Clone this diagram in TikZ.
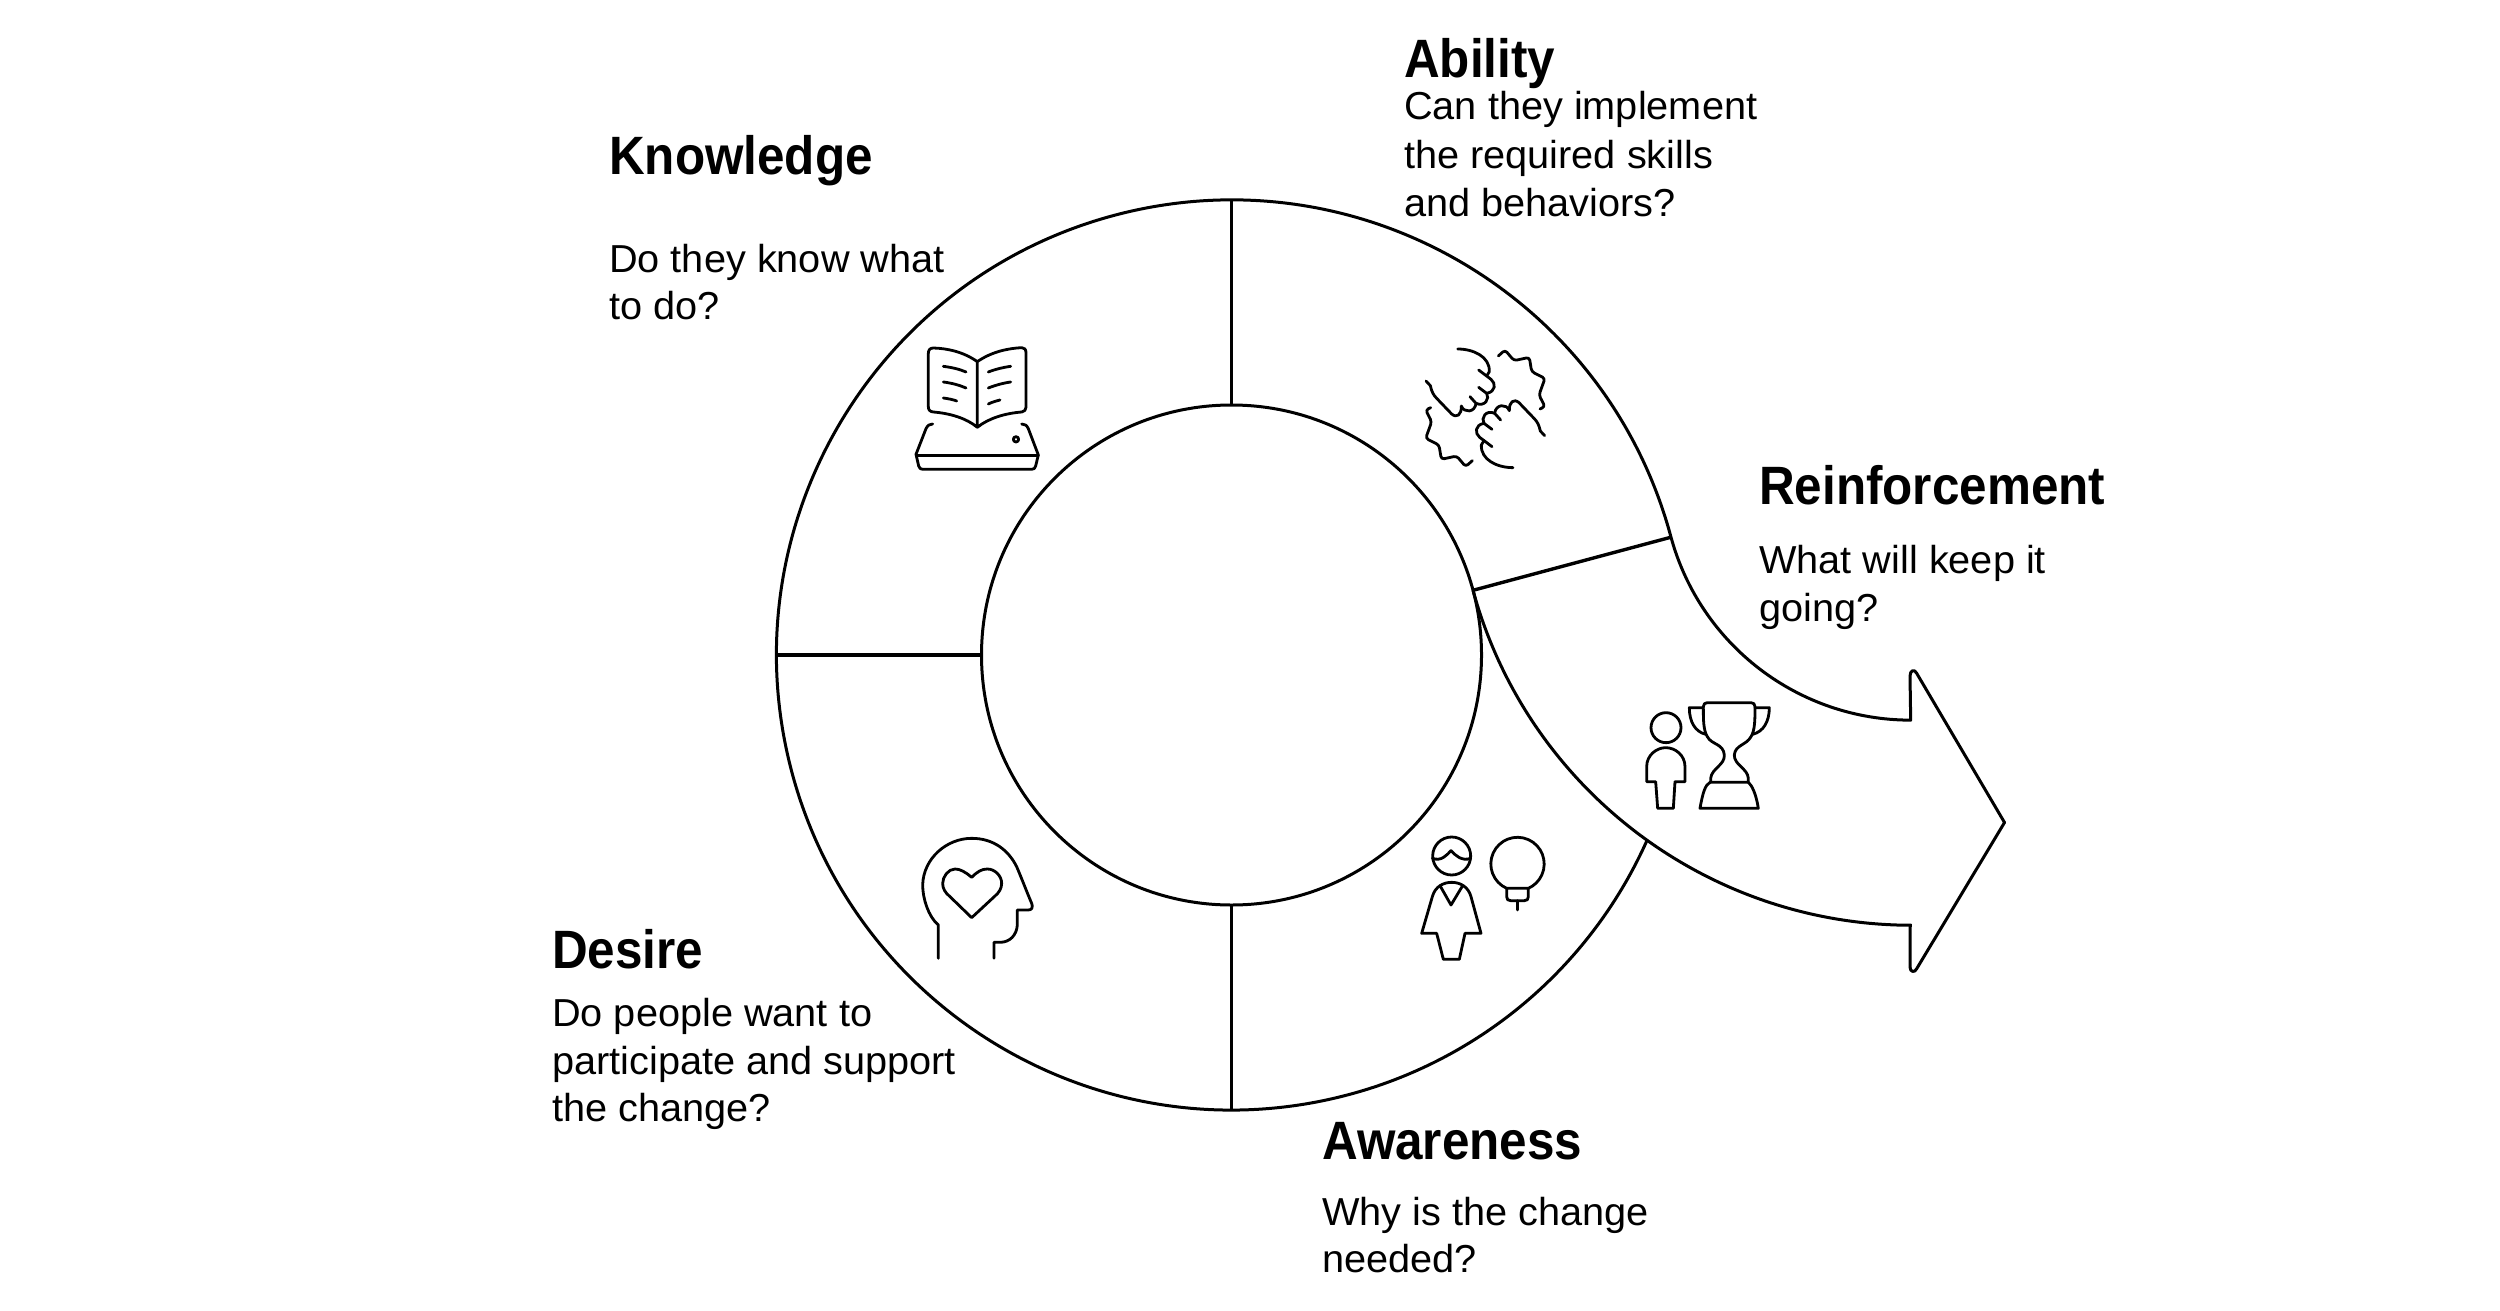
\documentclass[tikz,border=0pt]{standalone}
\usepackage{fontspec}
\setmainfont{Liberation Sans}[FakeStretch=1.018,BoldFeatures={FakeStretch=0.915}]
\begin{document}
\begin{tikzpicture}[x=1pt,y=-1pt,line join=round,
  ln/.style={draw=black,line width=3pt},
  dv/.style={draw=black,line width=3.4pt},
  ic/.style={draw=black,line width=2.8pt,line cap=round},
  head/.style={anchor=base west,inner sep=0pt,font=\fontsize{54}{54}\selectfont\bfseries},
  body/.style={anchor=base west,inner sep=0pt,font=\fontsize{39}{47.5}\selectfont}]
\useasboundingbox (0,0) rectangle (2500,1311);
% ring
\coordinate (ctr) at (1231.5,655);
\coordinate (outS) at (1671,537.2);
\coordinate (innS) at (1473,590.3);
\draw[ln] (ctr) circle[radius=250pt];
\draw[ln] (outS) arc[start angle=15,end angle=335.9,radius=455pt];
\coordinate (t1) at (1231.5,200); \coordinate (t2) at (1231.5,405);
\coordinate (l1) at (776.5,655); \coordinate (l2) at (981.5,655);
\coordinate (b1) at (1231.5,905); \coordinate (b2) at (1231.5,1110);
\draw[dv] (t1)--(t2); \draw[dv] (l1)--(l2); \draw[dv] (b1)--(b2); \draw[dv] (innS)--(outS);
% arrow
\draw[ln] (outS) arc[start angle=195.3,end angle=270,radius=248.5pt] coordinate (nU)
  -- (1910,676) .. controls (1910,670) and (1914.5,669) .. (1916.5,673)
  -- (2004.5,822.5) -- (1916.5,969) .. controls (1914.5,973) and (1910,972) .. (1910,967)
  -- (1910,925.4) coordinate (nL);
\draw[ln] (innS) arc[start angle=195.3,end angle=270,radius=455pt];
% book
\begin{scope}[x=0.3333pt,y=-0.3333pt,shift={(880pt,-310pt)}]
\draw[ic] (292,155) .. controls (250,125) and (200,115) .. (160,114) .. controls (150,114) and (145,120) .. (145,130) -- (145,290) .. controls (145,300) and (150,305) .. (160,306) .. controls (210,310) and (260,325) .. (292,352) .. controls (325,325) and (375,310) .. (425,306) .. controls (433,305) and (438,300) .. (438,292) -- (438,128) .. controls (438,118) and (433,113) .. (425,113) .. controls (385,115) and (335,125) .. (292,155) -- (292,352);
\draw[ic] (190,169) .. controls (215,172) and (240,178) .. (258,186);
\draw[ic] (190,216) .. controls (215,219) and (240,226) .. (258,234);
\draw[ic] (190,264) .. controls (205,266) and (220,269) .. (230,273);
\draw[ic] (325,186) .. controls (345,178) and (370,172) .. (392,169);
\draw[ic] (325,234) .. controls (345,226) and (370,219) .. (392,216);
\draw[ic] (325,282) .. controls (335,277) and (348,273) .. (360,270);
\draw[ic] (158,342) .. controls (148,342) and (143,346) .. (138,356) -- (108,433) -- (116,468) .. controls (118,475) and (122,478) .. (128,478) -- (455,478) .. controls (462,478) and (465,475) .. (467,468) -- (475,435) -- (445,356) .. controls (440,346) and (435,342) .. (425,342);
\draw[ic] (110,437) -- (475,437);
\draw[ic] (408,388) circle[radius=8];
\end{scope}
% hands
\begin{scope}[x=0.3333pt,y=-0.3333pt,shift={(1390pt,-320pt)}]
\foreach \r in {0,180}{
\begin{scope}[rotate around={\r:(286,265)}]
\draw[ic] (203,87) .. controls (250,87) and (300,110) .. (298,155) -- (290,168);
\draw[ic] (108,183) -- (121,197) .. controls (125,215) and (130,225) .. (140,235) -- (185,282) .. controls (200,295) and (215,285) .. (214,258) .. controls (222,280) and (255,278) .. (258,250) -- (240,230);
\draw[ic] (258,250) .. controls (285,262) and (300,235) .. (290,220) -- (266,202);
\draw[ic] (290,220) .. controls (318,215) and (318,190) .. (303,178) -- (266,150);
\end{scope}
\begin{scope}[rotate around={\r:(286,265)},rounded corners=3pt]
\draw[ic] (325,108) -- (345,90) -- (372,122) -- (418,112) -- (425,155) -- (465,175) -- (447,225) -- (465,260) -- (450,267);
\end{scope}}
\end{scope}
% trophy and person
\begin{scope}[x=0.3333pt,y=-0.3333pt,shift={(1620pt,-680pt)}]
\draw[ic] (138,143) circle[radius=45];
\draw[ic] (80,305) -- (80,260) .. controls (80,225) and (110,203) .. (137,203) .. controls (165,203) and (195,225) .. (195,260) -- (195,305) -- (165,305) -- (160,385) -- (113,385) -- (107,305) -- cycle;
\draw[ic] (272,307) -- (272,295) .. controls (275,265) and (315,255) .. (313,225) .. controls (310,190) and (275,195) .. (262,170) .. controls (250,150) and (250,120) .. (250,80) .. controls (250,72) and (255,68) .. (262,68) -- (393,68) .. controls (400,68) and (405,72) .. (405,80) .. controls (405,120) and (405,150) .. (393,170) .. controls (380,195) and (345,195) .. (343,225) .. controls (342,255) and (383,265) .. (385,295) -- (385,307);
\draw[ic] (240,385) -- (415,385) .. controls (408,340) and (395,315) .. (385,307) -- (270,307) .. controls (255,315) and (248,340) .. (240,385) -- cycle;
\draw[ic] (250,83) -- (208,83) .. controls (208,125) and (225,155) .. (257,163);
\draw[ic] (405,83) -- (448,83) .. controls (448,125) and (430,155) .. (398,163);
\end{scope}
% woman and bulb
\begin{scope}[x=0.3333pt,y=-0.3333pt,shift={(1400pt,-820pt)}]
\draw[ic] (155,108) circle[radius=57];
\draw[ic] (97,115) .. controls (125,125) and (140,105) .. (153,92) .. controls (165,105) and (185,125) .. (212,115);
\draw[ic] (65,340) -- (110,340) -- (130,418) -- (178,418) -- (195,340) -- (243,340) -- (213,230) .. controls (205,200) and (180,187) .. (155,187) .. controls (130,187) and (105,200) .. (97,230) -- cycle;
\draw[ic] (120,197) -- (153,255) -- (188,197);
\draw[ic] (320,205) arc[start angle=246,end angle=-66,radius=26.67pt];
\draw[ic] (320,205) -- (385,205) -- (385,230) .. controls (385,238) and (381,242) .. (373,242) -- (332,242) .. controls (324,242) and (320,238) .. (320,230) -- cycle;
\draw[ic] (352,242) -- (352,270);
\end{scope}
% head and heart
\begin{scope}[x=0.3333pt,y=-0.3333pt,shift={(900pt,-820pt)}]
\draw[ic] (115,415) -- (115,315) .. controls (85,290) and (68,235) .. (68,195) .. controls (70,115) and (140,55) .. (215,55) .. controls (280,55) and (325,90) .. (350,140) .. controls (365,175) and (380,215) .. (395,250) .. controls (400,262) and (395,270) .. (385,270) -- (352,270) -- (352,315) .. controls (350,345) and (330,367) .. (300,367) -- (282,367) -- (282,415);
\draw[ic] (215,172) .. controls (195,155) and (180,147) .. (165,147) .. controls (145,147) and (128,170) .. (128,190) .. controls (128,205) and (135,218) .. (150,230) -- (215,293) -- (285,228) .. controls (297,218) and (305,205) .. (305,190) .. controls (305,168) and (285,147) .. (262,147) .. controls (245,147) and (232,155) .. (215,172) -- cycle;
\end{scope}
% labels
\node[head] (abH) at (1404,78) {Ability};
\node[body] (ab1) at (1404,120) {Can they implement};
\node[body] (ab2) at (1404,168) {the required skills};
\node[body] (ab3) at (1404,216) {and behaviors?};
\node[head] (knH) at (609,174) {Knowledge};
\node[body] (kn1) at (609,272) {Do they know what};
\node[body] (kn2) at (609,319) {to do?};
\node[head] (reH) at (1759,504) {Reinforcement};
\node[body] (re1) at (1759,573) {What will keep it};
\node[body] (re2) at (1759,621) {going?};
\node[head] (deH) at (552,968) {Desire};
\node[body] (de1) at (552,1026) {Do people want to};
\node[body] (de2) at (552,1074) {participate and support};
\node[body] (de3) at (552,1121) {the change?};
\node[head] (awH) at (1322,1159) {Awareness};
\node[body] (aw1) at (1322,1225) {Why is the change};
\node[body] (aw2) at (1322,1272) {needed?};
\end{tikzpicture}
\end{document}
